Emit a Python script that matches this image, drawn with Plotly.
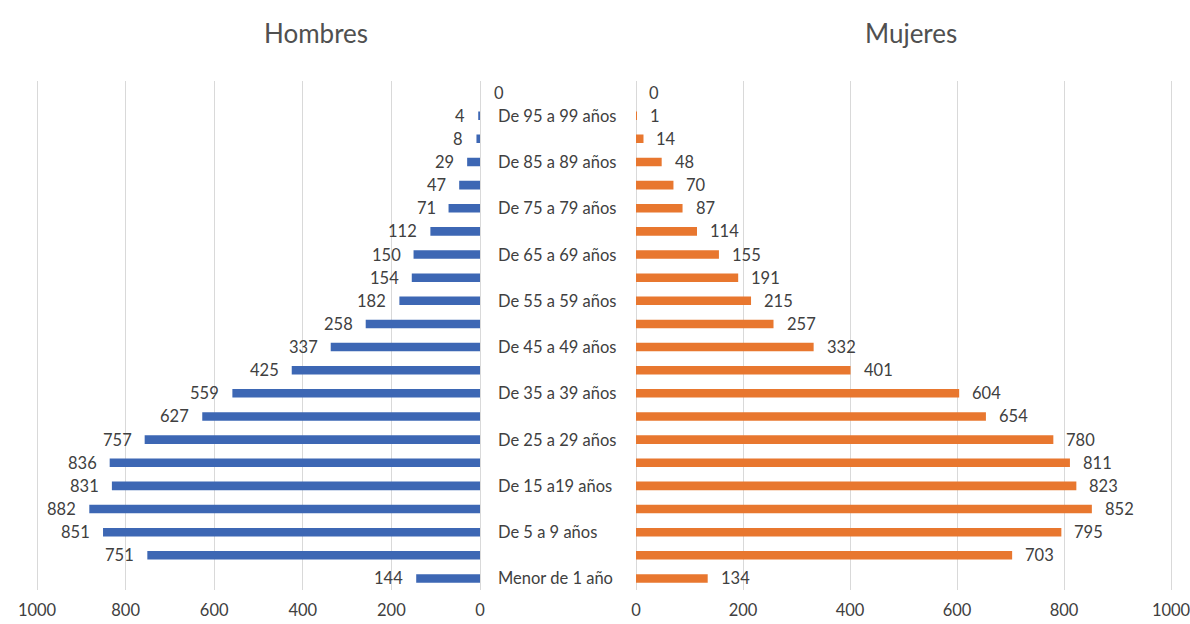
import plotly.graph_objects as go

categories = [
    "Menor de 1 año", "De 1 a 4 años", "De 5 a 9 años", "De 10 a 14 años",
    "De 15 a19 años", "De 20 a 24 años", "De 25 a 29 años", "De 30 a 34 años",
    "De 35 a 39 años", "De 40 a 44 años", "De 45 a 49 años", "De 50 a 54 años",
    "De 55 a 59 años", "De 60 a 64 años", "De 65 a 69 años", "De 70 a 74 años",
    "De 75 a 79 años", "De 80 a 84 años", "De 85 a 89 años", "De 90 a 94 años",
    "De 95 a 99 años", "De 100 años y más",
]
hombres = [144, 751, 851, 882, 831, 836, 757, 627, 559, 425, 337, 258,
           182, 154, 150, 112, 71, 47, 29, 8, 4, 0]
mujeres = [134, 703, 795, 852, 823, 811, 780, 654, 604, 401, 332, 257,
           215, 191, 155, 114, 87, 70, 48, 14, 1, 0]
shown_labels = [c if i % 2 == 0 else "" for i, c in enumerate(categories)]
x_ticks = [0, 200, 400, 600, 800, 1000]

W, H = 1190, 624
BLUE = "#3D67B4"
ORANGE = "#E8772F"
TXT = "#404040"
GRID = "#D9D9D9"
FONT = "Lato"
VAL_SIZE = 16.5
CAT_SIZE = 16.5

fig = go.Figure()
fig.add_trace(go.Bar(y=categories, x=hombres, orientation="h", xaxis="x", yaxis="y",
                     marker=dict(color=BLUE, line=dict(width=0)), showlegend=False,
                     hoverinfo="x+y"))
fig.add_trace(go.Bar(y=categories, x=mujeres, orientation="h", xaxis="x2", yaxis="y2",
                     marker=dict(color=ORANGE, line=dict(width=0)), showlegend=False,
                     hoverinfo="x+y"))

ann = []
for c, v in zip(categories, hombres):
    if v == 0:
        ann.append(dict(x=v, y=c, xref="x", yref="y", text=str(v), showarrow=False,
                        xanchor="left", xshift=12,
                        font=dict(size=VAL_SIZE, color=TXT, family=FONT)))
    else:
        ann.append(dict(x=v, y=c, xref="x", yref="y", text=str(v), showarrow=False,
                        xanchor="right", xshift=-11,
                        font=dict(size=VAL_SIZE, color=TXT, family=FONT)))
for c, v in zip(categories, mujeres):
    ann.append(dict(x=v, y=c, xref="x2", yref="y2", text=str(v), showarrow=False,
                    xanchor="left", xshift=11,
                    font=dict(size=VAL_SIZE, color=TXT, family=FONT)))
for c, lab in zip(categories, shown_labels):
    if lab:
        ann.append(dict(x=496 / W, y=c, xref="paper", yref="y", text=lab, showarrow=False,
                        xanchor="left", font=dict(size=CAT_SIZE, color=TXT, family=FONT)))

top, bottom = 81, 34
ph = H - top - bottom
ann.append(dict(x=316 / W, y=1 + (top - 33) / ph, xref="paper", yref="paper", text="Hombres",
                showarrow=False, xanchor="center", yanchor="middle",
                font=dict(size=26, color="#505050", family=FONT)))
ann.append(dict(x=911 / W, y=1 + (top - 33) / ph, xref="paper", yref="paper", text="Mujeres",
                showarrow=False, xanchor="center", yanchor="middle",
                font=dict(size=26, color="#505050", family=FONT)))

axis_common = dict(tickvals=x_ticks, ticktext=[str(t) for t in x_ticks], showgrid=True,
                   gridcolor=GRID, gridwidth=1, zeroline=True, zerolinecolor=GRID,
                   zerolinewidth=1, showline=False, ticks="", automargin=False,
                   tickfont=dict(size=VAL_SIZE, color=TXT, family=FONT), fixedrange=True,
                   ticklabelstandoff=8, ticklabeloverflow="allow")

fig.update_layout(
    width=W, height=H,
    margin=dict(l=0, r=0, t=top, b=bottom, autoexpand=False),
    paper_bgcolor="white", plot_bgcolor="white",
    bargap=0.63,
    xaxis=dict(domain=[32.6 / W, 480 / W], range=[1010, 0], **axis_common),
    xaxis2=dict(domain=[636 / W, 1176.4 / W], range=[0, 1010], **axis_common),
    yaxis=dict(categoryorder="array", categoryarray=categories, range=[-0.5, 21.5],
               showticklabels=False, showgrid=False, zeroline=False, ticks="",
               automargin=False),
    yaxis2=dict(categoryorder="array", categoryarray=categories, range=[-0.5, 21.5],
                showticklabels=False, showgrid=False, zeroline=False, ticks="",
                anchor="x2", automargin=False),
    annotations=ann,
    font=dict(family=FONT, color=TXT),
)

fig.write_html("out.html", post_script="document.body.style.margin='0';",
               config={"displayModeBar": False})
